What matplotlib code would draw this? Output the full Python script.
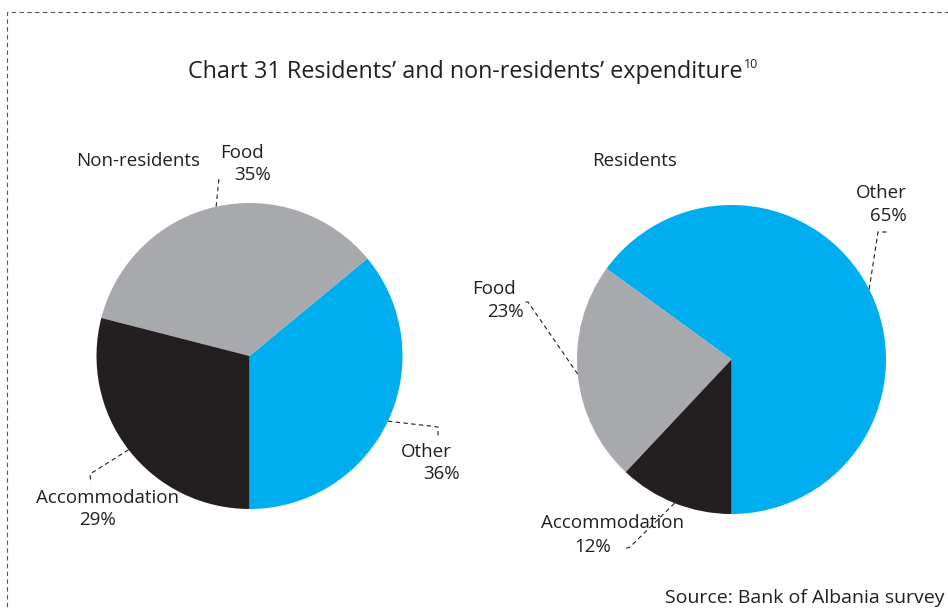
import numpy as np
import matplotlib.pyplot as plt
from matplotlib.patches import Rectangle

# Expenditure shares (%), wedge order: Other, Food, Accommodation
categories = ["Other", "Food", "Accommodation"]
non_residents = [36, 35, 29]
residents = [65, 23, 12]
colors = ["#00AEEF", "#A7A9AC", "#231F20"]

TEXT = "#231F20"
plt.rcParams['font.family'] = ['Open Sans', 'DejaVu Sans']

W, H = 948, 610
fig = plt.figure(figsize=(W / 100, H / 100), dpi=100)
ax = fig.add_axes([0, 0, 1, 1])
ax.set_xlim(0, W)
ax.set_ylim(0, H)
ax.set_aspect('equal')
ax.axis('off')

# dashed frame (right and bottom edges run off the page)
ax.add_patch(Rectangle((7, -20), W + 40, H - 12 + 20, fill=False,
                       edgecolor='#555555', linewidth=0.8, linestyle=(0, (4, 3))))

title = ax.text(188, H - 72, "Chart 31 Residents\u2019 and non-residents\u2019 expenditure",
                ha='left', va='center', fontsize=16.8, color=TEXT)
fig.canvas.draw()
bb = title.get_window_extent().transformed(ax.transData.inverted())
ax.text(bb.x1 + 1, H - 65, "10", ha='left', va='center', fontsize=9, color=TEXT)


def draw_pie(values, center, radius):
    wedges, _ = ax.pie(values, colors=colors, startangle=-90, counterclock=True,
                       center=center, radius=radius, frame=True,
                       wedgeprops=dict(linewidth=0))
    return [np.deg2rad((w.theta1 + w.theta2) / 2) for w in wedges]


def leader(center, radius, angle, path):
    x0 = center[0] + radius * np.cos(angle)
    y0 = center[1] + radius * np.sin(angle)
    xs = [x0] + [p[0] for p in path]
    ys = [y0] + [H - p[1] for p in path]
    ax.plot(xs, ys, color=TEXT, linewidth=0.8, linestyle=(0, (4, 3)))


def label(name_xy, value_xy, name, value):
    ax.text(name_xy[0], H - name_xy[1], name, ha='left', va='center',
            fontsize=13.5, color=TEXT)
    ax.text(value_xy[0], H - value_xy[1], f"{value}%", ha='left', va='center',
            fontsize=13.5, color=TEXT)


# Non-residents
c1, r1 = (249.5, H - 356), 153
m1 = draw_pie(non_residents, c1, r1)
ax.text(76, H - 161, "Non-residents", ha='left', va='center', fontsize=13.5, color=TEXT)
leader(c1, r1, m1[0], [(438, 427), (438, 436)])
leader(c1, r1, m1[1], [(219, 178)])
leader(c1, r1, m1[2], [(90, 474), (91, 483)])
label((401, 452), (423, 474), categories[0], non_residents[0])
label((220, 153), (234, 175), categories[1], non_residents[1])
label((36, 498), (79, 520), categories[2], non_residents[2])

# Residents
c2, r2 = (731.5, H - 359.5), 154.5
m2 = draw_pie(residents, c2, r2)
ax.text(592, H - 161, "Residents", ha='left', va='center', fontsize=13.5, color=TEXT)
leader(c2, r2, m2[0], [(878, 232), (888, 232)])
leader(c2, r2, m2[1], [(528, 302), (522, 302)])
leader(c2, r2, m2[2], [(630, 547), (624, 549)])
label((856, 193), (870, 216), categories[0], residents[0])
label((472, 289), (487, 312), categories[1], residents[1])
label((541, 523), (574, 547), categories[2], residents[2])

ax.set_xlim(0, W)
ax.set_ylim(0, H)

ax.text(945, H - 598, "Source: Bank of Albania survey", ha='right', va='center',
        fontsize=14, color=TEXT)

fig.savefig("out.png", dpi=100, facecolor='white')
